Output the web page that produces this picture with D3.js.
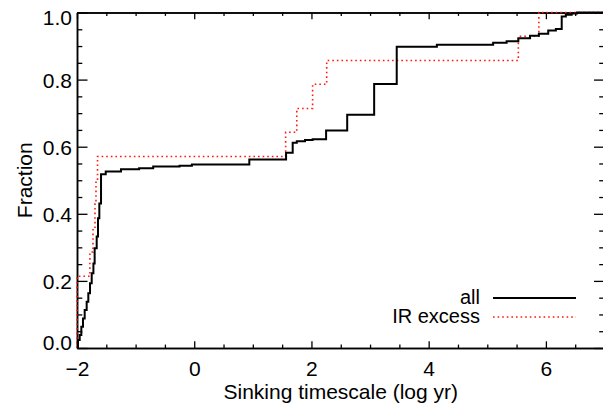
<!DOCTYPE html>
<html>
<head>
<meta charset="utf-8">
<script src="https://cdn.jsdelivr.net/npm/d3@7"></script>
<style>
  html, body { margin: 0; padding: 0; background: #fff; }
  svg { display: block; }
  text { font-family: "Liberation Sans", Arial, Helvetica, sans-serif; fill: #000; }
</style>
</head>
<body>
<svg id="chart" width="603" height="408"></svg>
<script>
// ---- data ----
// "all": x position of each step (log yr) and the cumulative fraction after it
const allX = [-1.983, -1.954, -1.926, -1.898, -1.869, -1.835, -1.807, -1.778, -1.749, -1.720,
              -1.699, -1.664, -1.642, -1.619, -1.590, -1.51, -1.25, -0.94, -0.70, -0.25,
              -0.04, 0.94, 1.567, 1.68, 1.75, 1.89, 2.02, 2.25, 2.61, 3.07,
              3.455, 4.14, 5.10, 5.33, 5.53, 5.73, 5.88, 6.04, 6.17, 6.27,
              6.34, 6.44, 6.53];
const allY = [0.024, 0.039, 0.063, 0.088, 0.113, 0.138, 0.163, 0.193, 0.223, 0.252,
              0.297, 0.332, 0.387, 0.431, 0.518, 0.526, 0.533, 0.536, 0.541, 0.543,
              0.547, 0.562, 0.582, 0.612, 0.616, 0.620, 0.622, 0.648, 0.695, 0.787,
              0.898, 0.904, 0.910, 0.914, 0.923, 0.931, 0.937, 0.946, 0.951, 0.988,
              0.993, 0.997, 1.000];
// "IR excess"
const irX = [-2.0, -1.78, -1.727, -1.693, -1.676, -1.65, 1.56, 1.75, 2.02, 2.26, 5.53, 5.88];
const irY = [0.214, 0.286, 0.357, 0.429, 0.500, 0.571, 0.643, 0.714, 0.786, 0.857, 0.929, 1.000];

const xMajorTicks = [-2, 0, 2, 4, 6];
const yMajorTicks = [0.0, 0.2, 0.4, 0.6, 0.8, 1.0];
const legendLabels = ["all", "IR excess"];
const xTitle = "Sinking timescale (log yr)";
const yTitle = "Fraction";

// ---- layout ----
const W = 603, H = 408;
const L = 77, R = 604.5, T = 12.5, B = 348;
const svg = d3.select("#chart");

const x = d3.scaleLinear().domain([-2, 7]).range([L, R]);
const y = d3.scaleLinear().domain([0, 1]).range([B, T]);

const xMinor = d3.range(-2, 7.001, 0.5).filter(v => !xMajorTicks.includes(v));
const yMinor = d3.range(0, 1.0001, 0.05).map(v => +v.toFixed(2)).filter(v => !yMajorTicks.some(m => Math.abs(m - v) < 1e-6));

const fmtX = d => (d < 0 ? "\u2212" + Math.abs(d) : String(d));
const fmtY = d3.format(".1f");

// axes (IDL-style box with inward ticks)
const xMajLen = 6.7, xMinLen = 3.4, yMajLen = 10.5, yMinLen = 5.3;

function xAxis(g, pos, dir) {
  const major = dir === "bottom" ? d3.axisBottom(x) : d3.axisTop(x);
  g.attr("transform", `translate(0,${pos})`)
   .call(major.tickValues(xMajorTicks).tickSizeInner(-xMajLen).tickSizeOuter(0).tickFormat(dir === "bottom" ? fmtX : ""));
  const minor = dir === "bottom" ? d3.axisBottom(x) : d3.axisTop(x);
  g.append("g").call(minor.tickValues(xMinor).tickSizeInner(-xMinLen).tickSizeOuter(0).tickFormat(""));
}
function yAxis(g, pos, dir) {
  const major = dir === "left" ? d3.axisLeft(y) : d3.axisRight(y);
  g.attr("transform", `translate(${pos},0)`)
   .call(major.tickValues(yMajorTicks).tickSizeInner(-yMajLen).tickSizeOuter(0).tickFormat(dir === "left" ? fmtY : ""));
  const minor = dir === "left" ? d3.axisLeft(y) : d3.axisRight(y);
  g.append("g").call(minor.tickValues(yMinor).tickSizeInner(-yMinLen).tickSizeOuter(0).tickFormat(""));
}

const gxb = svg.append("g"); xAxis(gxb, B, "bottom");
const gxt = svg.append("g"); xAxis(gxt, T, "top");
const gyl = svg.append("g"); yAxis(gyl, L, "left");
const gyr = svg.append("g"); yAxis(gyr, R, "right");

svg.selectAll(".domain").attr("stroke", "#000").attr("stroke-width", 1.5);
svg.selectAll(".tick line").attr("stroke", "#000").attr("stroke-width", 1.3);
svg.selectAll(".tick text").attr("font-size", 21).attr("font-family", '"Liberation Sans", Arial, sans-serif').attr("fill", "#000");
gxb.selectAll(".tick text").attr("dy", null).attr("y", 28);
// end labels sit inside the axis range, as in the reference
gyl.selectAll(".tick text").attr("x", -5).attr("dy", "0.36em")
  .attr("y", d => (d === 0 ? -6.5 : d === 1 ? 4.5 : 0));

// titles
svg.append("text").attr("x", (L + R) / 2).attr("y", 399).attr("text-anchor", "middle")
  .attr("font-size", 21).text(xTitle);
svg.append("text").attr("transform", `translate(32,${(T + B) / 2}) rotate(-90)`)
  .attr("text-anchor", "middle").attr("font-size", 21).text(yTitle);

// step curves
function stepPoints(xs, ys) {
  const pts = [[x.domain()[0], 0]];
  xs.forEach((v, i) => pts.push([v, ys[i]]));
  pts.push([x.domain()[1], ys[ys.length - 1]]);
  return pts;
}
const line = d3.line().x(d => x(d[0])).y(d => y(d[1])).curve(d3.curveStepAfter);

svg.append("path").attr("d", line(stepPoints(irX, irY)))
  .attr("fill", "none").attr("stroke", "#ff1a0a").attr("stroke-width", 1.6)
  .attr("stroke-dasharray", "1.6,3");
svg.append("path").attr("d", line(stepPoints(allX, allY)))
  .attr("fill", "none").attr("stroke", "#000").attr("stroke-width", 2);

// legend
const legY = [298, 317];
const legStyle = [
  { stroke: "#000", width: 2, dash: null },
  { stroke: "#ff1a0a", width: 1.6, dash: "1.6,3" }
];
legendLabels.forEach((lab, i) => {
  svg.append("text").attr("x", 480).attr("y", legY[i] + 5.5)
    .attr("text-anchor", "end").attr("font-size", 20).text(lab);
  svg.append("line").attr("x1", 493).attr("x2", 576).attr("y1", legY[i]).attr("y2", legY[i])
    .attr("stroke", legStyle[i].stroke).attr("stroke-width", legStyle[i].width)
    .attr("stroke-dasharray", legStyle[i].dash);
});
</script>
</body>
</html>
